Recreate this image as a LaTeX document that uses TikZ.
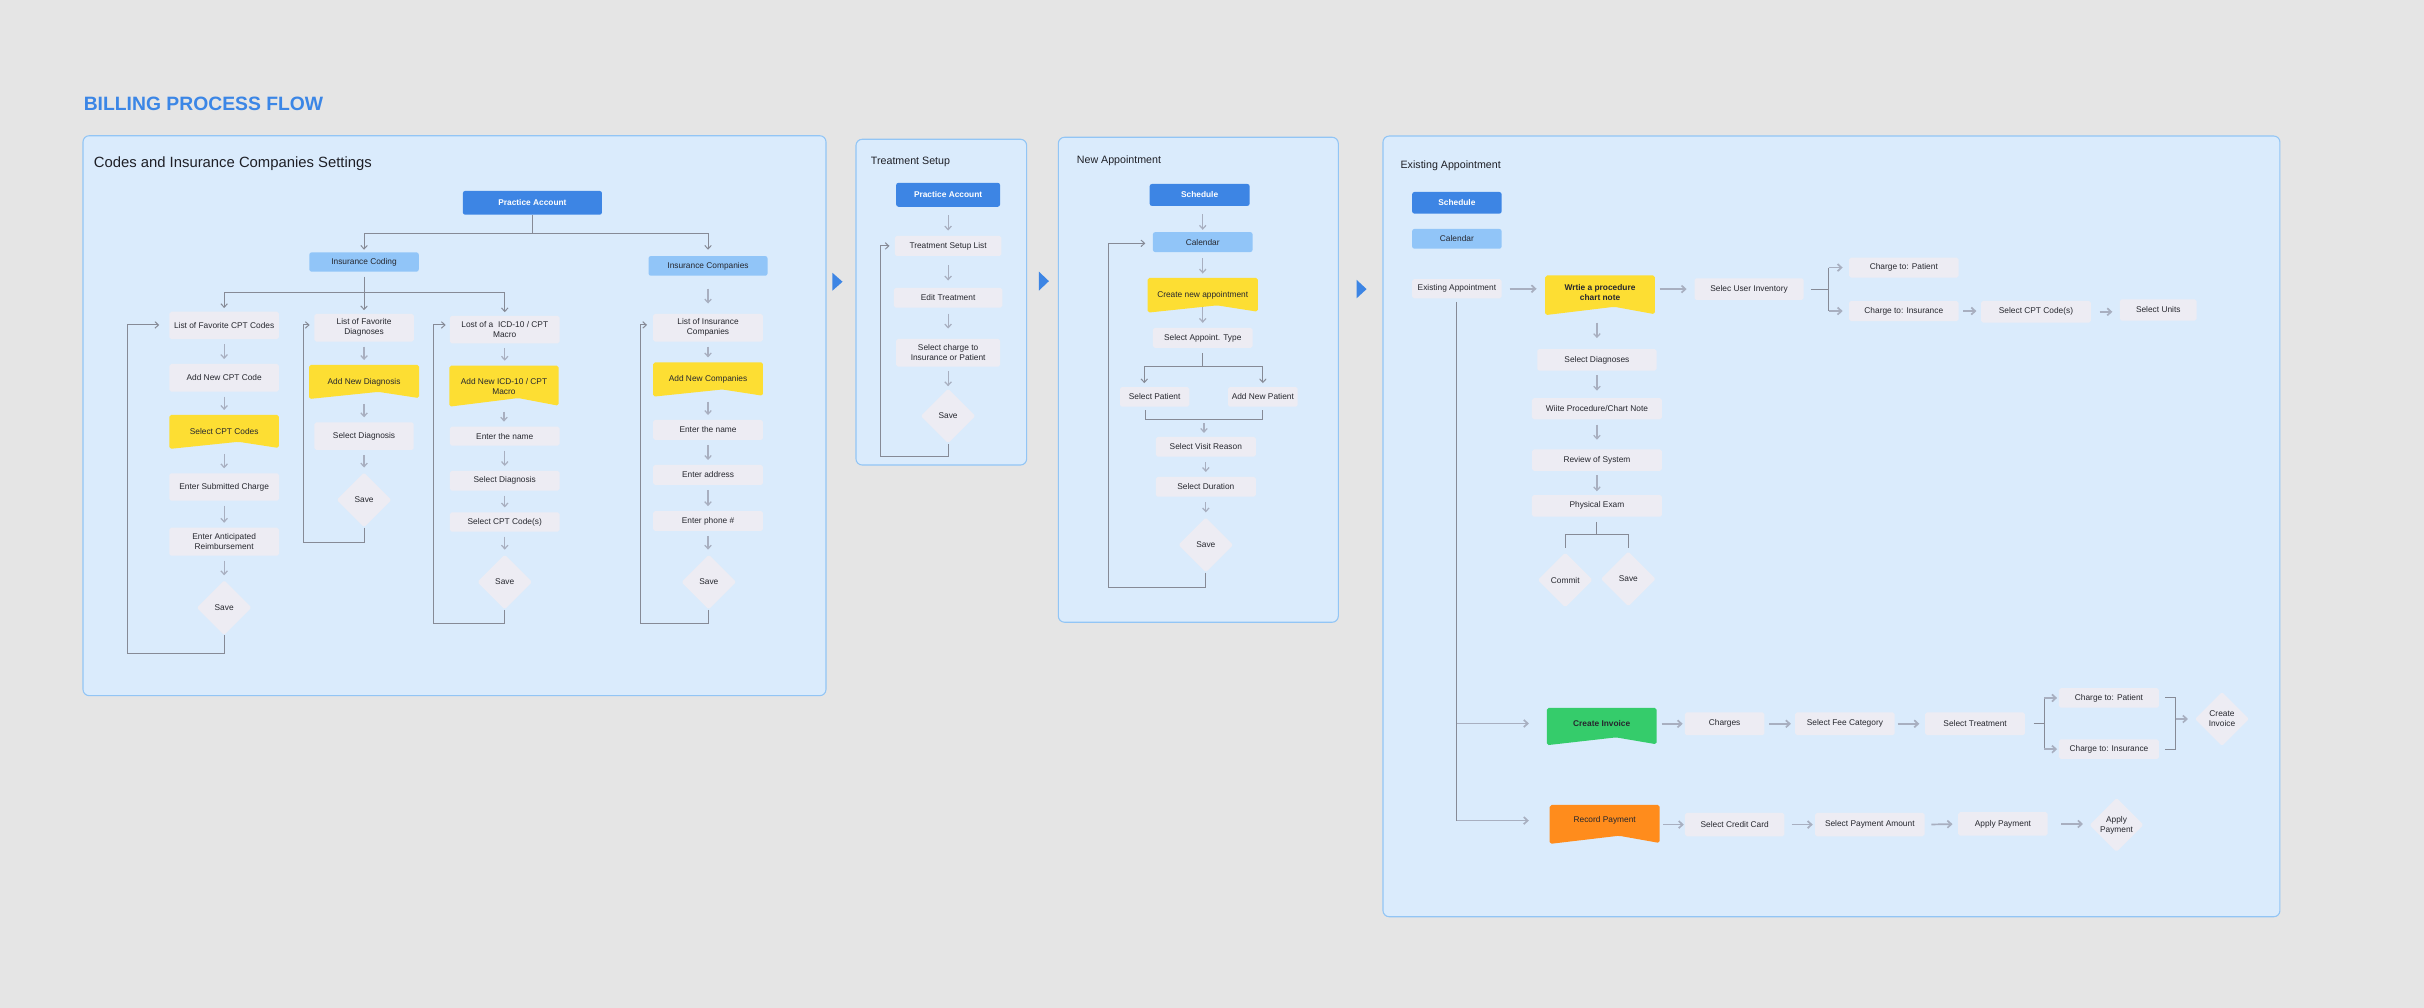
\documentclass[tikz,border=0pt]{standalone}
\usepackage{fontspec}
\setmainfont{Liberation Sans}
\usetikzlibrary{shapes.geometric,arrows.meta,calc}
\definecolor{bgc}{HTML}{E5E5E5}
\definecolor{panelc}{HTML}{DAEBFC}
\definecolor{panelb}{HTML}{92C5F5}
\definecolor{dblue}{HTML}{3D85E4}
\definecolor{lblue}{HTML}{91C5F8}
\definecolor{boxg}{HTML}{EDECF3}
\definecolor{yel}{HTML}{FDDE33}
\definecolor{grn}{HTML}{35CC6B}
\definecolor{org}{HTML}{FF8C1C}
\definecolor{txt}{HTML}{26272E}
\definecolor{ttxt}{HTML}{1E1F26}
\definecolor{lineg}{HTML}{868A96}
\definecolor{arrg}{HTML}{A8AFC0}
\definecolor{titleb}{HTML}{3B86E6}
\newcommand\bannernode[8]{%
 \fill[#6, rounded corners=1.2pt] ({#2-#4/2},{#3-#5/2}) -- ({#2+#4/2},{#3-#5/2}) -- ({#2+#4/2},{#3+#5/2-0.6}) -- ({#2+0.13*#4},{#3+#5/2-0.21*#5}) -- ({#2-#4/2},{#3+#5/2}) -- cycle;
 \node[lbl, minimum width=#4pt, minimum height=#5pt, inner sep=0pt, #7] (#1) at (#2,#3) {#8};}
\tikzset{
 lbl/.style={font=\fontsize{5.4}{6.5}\selectfont, text=txt, align=center},
 gbox/.style={lbl, fill=boxg, rounded corners=1.2pt, inner sep=0pt},
 dbox/.style={fill=dblue, rounded corners=1.5pt, text=white, font=\bfseries\fontsize{5.4}{6.5}\selectfont, align=center, inner sep=0pt},
 lbox/.style={lbl, fill=lblue, rounded corners=1.5pt, inner sep=0pt},
 dia/.style={lbl, diamond, fill=boxg, minimum width=35.5pt, minimum height=35.5pt, inner sep=0pt, rounded corners=1pt},
 panel/.style={fill=panelc, draw=panelb, line width=0.7pt, rounded corners=4pt},
 ptitle/.style={anchor=base west, inner sep=0pt, text=ttxt},
 va/.style={draw=arrg, line width=0.8pt, -{Straight Barb[length=2.3pt,width=4.2pt]}},
 ha/.style={draw=arrg, line width=1.1pt, -{Straight Barb[length=2.5pt,width=4.6pt]}},
 dk/.style={draw=lineg, line width=0.65pt},
 dka/.style={dk, -{Straight Barb[length=2.3pt,width=4.2pt]}},
 tri/.style={fill=dblue},
}
\begin{document}
\begin{tikzpicture}[x=1pt,y=-1pt]
\fill[bgc] (0,0) rectangle (1568,652);
\useasboundingbox (0,0) rectangle (1568,652);

\node[anchor=base west, inner sep=0pt, font=\bfseries\fontsize{12.5}{15}\selectfont, text=titleb] (title) at (54,71.2) {BILLING PROCESS FLOW};

% panels
\draw[panel] (53.7,87.8) rectangle (534.3,450);
\draw[panel] (553.7,90.1) rectangle (664.1,300.8);
\draw[panel] (684.6,88.8) rectangle (865.7,402.5);
\draw[panel] (894.6,88) rectangle (1474.8,593);
\fill[tri] (538.5,176.5) -- (545,182.25) -- (538.5,188) -- cycle;
\fill[tri] (672,175.7) -- (678.5,181.85) -- (672,188) -- cycle;
\fill[tri] (877.5,181) -- (884,187) -- (877.5,193) -- cycle;

\node[ptitle, font=\fontsize{9.6}{11}\selectfont] (p1t) at (60.5,108.2) {Codes and Insurance Companies Settings};
\node[ptitle, font=\fontsize{6.9}{8}\selectfont] (p2t) at (563.2,106.1) {Treatment Setup};
\node[ptitle, font=\fontsize{6.9}{8}\selectfont] (p3t) at (696.4,105.6) {New Appointment};
\node[ptitle, font=\fontsize{6.9}{8}\selectfont] (p4t) at (905.8,109.3) {Existing Appointment};

% ===== Panel 1 =====
\node[dbox, minimum width=90pt, minimum height=15.4pt] (pa1) at (344.4,131.2) {Practice Account};
\node[lbox, minimum width=70.8pt, minimum height=12.5pt] (icod) at (235.5,169.5) {Insurance Coding};
\node[lbox, minimum width=77pt, minimum height=12.7pt] (icomp) at (458,172) {Insurance Companies};

\node[gbox, minimum width=70.8pt, minimum height=17.7pt] (lfc) at (145,210.5) {List of Favorite CPT Codes};
\node[gbox, minimum width=70.8pt, minimum height=17.9pt] (ancc) at (145,244.4) {Add New CPT Code};
\bannernode{scc}{145}{279.4}{70.8}{22}{yel}{}{Select CPT Codes}
\node[gbox, minimum width=71pt, minimum height=17.7pt] (esc) at (145,315) {Enter Submitted Charge};
\node[gbox, minimum width=71pt, minimum height=18.1pt] (ear) at (145,350.4) {Enter Anticipated\\Reimbursement};
\node[dia] (sv1) at (145,393.1) {Save};

\node[gbox, minimum width=64.4pt, minimum height=17.9pt] (lfd) at (235.5,212) {List of Favorite\\Diagnoses};
\bannernode{andg}{235.5}{247.1}{71.2}{22}{yel}{}{Add New Diagnosis}
\node[gbox, minimum width=64.2pt, minimum height=17.9pt] (sd1) at (235.5,282.1) {Select Diagnosis};
\node[dia] (sv2) at (235.5,323.4) {Save};

\node[gbox, minimum width=71pt, minimum height=17.7pt] (licd) at (326.5,213.2) {Lost of a~ ICD-10 / CPT\\Macro};
\bannernode{anicd}{326}{249.8}{70.7}{26.5}{yel}{}{Add New ICD-10 / CPT\\Macro}
\node[gbox, minimum width=71pt, minimum height=12.3pt] (etn1) at (326.5,282.1) {Enter the name};
\node[gbox, minimum width=71pt, minimum height=12.7pt] (sd2) at (326.5,311) {Select Diagnosis};
\node[gbox, minimum width=71pt, minimum height=12.5pt] (scpt1) at (326.5,337.7) {Select CPT Code(s)};
\node[dia] (sv3) at (326.5,376.5) {Save};

\node[gbox, minimum width=71.1pt, minimum height=17.9pt] (lic) at (458,212) {List of Insurance\\Companies};
\bannernode{anc}{458}{245.5}{71.1}{22.2}{yel}{}{Add New Companies}
\node[gbox, minimum width=71.1pt, minimum height=12.9pt] (etn2) at (458,278.1) {Enter the name};
\node[gbox, minimum width=71.1pt, minimum height=12.9pt] (ead) at (458,307.2) {Enter address};
\node[gbox, minimum width=71.1pt, minimum height=12.8pt] (eph) at (458,337) {Enter phone \#};
\node[dia] (sv4) at (458.5,376.5) {Save};

% tree
\coordinate (t0) at (0,150.9);
\draw[dk] (pa1.south) -- (pa1.south |- t0);
\draw[dk] (icod.north |- t0) -- (icomp.north |- t0);
\draw[dka, shorten >=1.5pt] (icod.north |- t0) -- (icod.north);
\draw[dka, shorten >=3.9pt] (icomp.north |- t0) -- (icomp.north);
\coordinate (t1) at (0,189.1);
\draw[dk, shorten <=3pt] (icod.south) -- (icod.south |- t1);
\draw[dk] (lfc.north |- t1) -- (licd.north |- t1);
\draw[dka, shorten >=2.2pt] (lfc.north |- t1) -- (lfc.north);
\draw[dka, shorten >=2.2pt] (lfd.north |- t1) -- (lfd.north);
\draw[dka, shorten >=2.2pt] (licd.north |- t1) -- (licd.north);
\draw[va, shorten <=8.2pt, shorten >=6.5pt] (icomp.south) -- (icomp.south |- lic.north);

\foreach \na/\nb in {lfc/ancc, ancc/scc, scc/esc, esc/ear, ear/sv1, lfd/andg, andg/sd1, sd1/sv2, licd/anicd, anicd/etn1, etn1/sd2, sd2/scpt1, scpt1/sv3, lic/anc, anc/etn2, etn2/ead, ead/eph, eph/sv4}
  \draw[va, shorten <=3pt, shorten >=3pt] (\na.south) -- (\na.south |- \nb.north);

% loops
\coordinate (la) at (82.4,422.6); \coordinate (lat) at (82.4,210.2);
\draw[dka, shorten >=6.4pt] (sv1.south) -- (sv1.south |- la) -- (la) -- (lat) -- (lat -| lfc.west);
\coordinate (lb) at (196.2,350.8); \coordinate (lbt) at (196.2,210.2);
\draw[dka, shorten >=2.8pt] (sv2.south) -- (sv2.south |- lb) -- (lb) -- (lbt) -- (lbt -| lfd.west);
\coordinate (lc) at (280.7,403.6); \coordinate (lct) at (280.7,210.2);
\draw[dka, shorten >=2.5pt] (sv3.south) -- (sv3.south |- lc) -- (lc) -- (lct) -- (lct -| licd.west);
\coordinate (ld) at (414.4,403.6); \coordinate (ldt) at (414.4,210.2);
\draw[dka, shorten >=3.7pt] (sv4.south) -- (sv4.south |- ld) -- (ld) -- (ldt) -- (ldt -| lic.west);

% ===== Panel 2 =====
\node[dbox, minimum width=67.2pt, minimum height=15.5pt] (pa2) at (613.3,126) {Practice Account};
\node[gbox, minimum width=69pt, minimum height=12.9pt] (tsl) at (613.3,159.1) {Treatment Setup List};
\node[gbox, minimum width=70.3pt, minimum height=12.7pt] (et) at (613.3,192.6) {Edit Treatment};
\node[gbox, minimum width=67.3pt, minimum height=17.9pt] (sci) at (613.3,228.2) {Select charge to\\Insurance or Patient};
\node[dia] (sv5) at (613.3,269.1) {Save};
\foreach \na/\nb/\ss/\se in {pa2/tsl/5.4/3.3, tsl/et/5.8/4.6, et/sci/3.7/6.5, sci/sv5/2.7/1.3}
  \draw[va, shorten <=\ss pt, shorten >=\se pt] (\na.south) -- (\na.south |- \nb.north);
\coordinate (le) at (569.6,295); \coordinate (let) at (569.6,159.1);
\draw[dka, shorten >=3.2pt] (sv5.south) -- (sv5.south |- le) -- (le) -- (let) -- (let -| tsl.west);

% ===== Panel 3 =====
\node[dbox, minimum width=64.7pt, minimum height=14.2pt] (sch3) at (776,126.1) {Schedule};
\node[lbox, minimum width=64.5pt, minimum height=12.9pt] (cal3) at (778,156.6) {Calendar};
\bannernode{cna}{778}{191}{71.2}{22.5}{yel}{}{Create new appointment}
\node[gbox, minimum width=64.5pt, minimum height=12.9pt] (sat) at (778,218.6) {Select Appoint. Type};
\node[gbox, minimum width=44.8pt, minimum height=12.7pt] (sp) at (746.9,256.7) {Select Patient};
\node[gbox, minimum width=45.1pt, minimum height=12.7pt] (anp) at (816.9,256.7) {Add New Patient};
\node[gbox, minimum width=64.7pt, minimum height=12.7pt] (svr) at (780,289) {Select Visit Reason};
\node[gbox, minimum width=64.7pt, minimum height=12.8pt] (sdur) at (780,314.9) {Select Duration};
\node[dia] (sv6) at (780,352.5) {Save};

\draw[va, shorten <=5.2pt, shorten >=1.3pt] (sch3.south -| cal3.north) -- (cal3.north);
\draw[va, shorten <=3.7pt, shorten >=2.6pt] (cal3.south) -- (cal3.south |- cna.north);
\draw[va, shorten <=-3.9pt, shorten >=3.1pt] (cna.south) -- (cna.south |- sat.north);
\coordinate (s1) at (740.2,237.2);
\draw[dk, shorten <=3.4pt] (sat.south) -- (sat.south |- s1);
\draw[dk] (s1) -- (s1 -| anp.north);
\draw[dka, shorten >=2.3pt] (s1) -- (s1 |- sp.north);
\draw[dka, shorten >=2.3pt] (s1 -| anp.north) -- (anp.north);
\coordinate (m1) at (740.8,271.2);
\draw[dk, shorten <=2.2pt, shorten >=2.2pt] (m1 |- sp.south) -- (m1) -- (m1 -| anp.south) -- (anp.south);
\coordinate (m2) at (778.8,273.8);
\draw[va, shorten >=2.4pt] (m2) -- (m2 |- svr.north);
\draw[va, shorten <=3.2pt, shorten >=3pt] (svr.south) -- (svr.south |- sdur.north);
\draw[va, shorten <=3.2pt, shorten >=3.1pt] (sdur.south) -- (sdur.south |- sv6.north);
\coordinate (lf) at (716.9,379.9); \coordinate (lft) at (716.9,157.4);
\draw[dka, shorten >=4.7pt] (sv6.south) -- (sv6.south |- lf) -- (lf) -- (lft) -- (lft -| cal3.west);

% ===== Panel 4 =====
\node[dbox, minimum width=57.9pt, minimum height=14pt] (sch4) at (942.4,131.2) {Schedule};
\node[lbox, minimum width=57.9pt, minimum height=12.8pt] (cal4) at (942.4,154.5) {Calendar};
\node[gbox, minimum width=57.9pt, minimum height=12.5pt] (ea) at (942.4,186.8) {Existing Appointment};
\bannernode{wpc}{1035}{191}{70.9}{25.7}{yel}{yshift=1.5pt, font=\bfseries\fontsize{5.4}{6.5}\selectfont}{Wrtie a procedure\\chart note}
\node[gbox, minimum width=70.6pt, minimum height=14pt] (sui) at (1131.4,187) {Selec User Inventory};
\node[gbox, minimum width=70.9pt, minimum height=12.9pt] (ctp1) at (1231.5,173.1) {Charge to: Patient};
\node[gbox, minimum width=70.9pt, minimum height=12.9pt] (cti1) at (1231.5,201.2) {Charge to: Insurance};
\node[gbox, minimum width=71.1pt, minimum height=14pt] (scpt2) at (1317,201.7) {Select CPT Code(s)};
\node[gbox, minimum width=49.6pt, minimum height=13.8pt] (su) at (1396.1,200.5) {Select Units};
\node[gbox, minimum width=77.2pt, minimum height=14pt] (sdg) at (1033,232.8) {Select Diagnoses};
\node[gbox, minimum width=84.1pt, minimum height=13.6pt] (wpn) at (1033,264.4) {Wiite Procedure/Chart Note};
\node[gbox, minimum width=83.9pt, minimum height=13.9pt] (ros) at (1033,297.6) {Review of System};
\node[gbox, minimum width=84.1pt, minimum height=14pt] (pe) at (1033,327.2) {Physical Exam};
\node[dia] (cmt) at (1012.5,375.2) {Commit};
\node[dia] (sv7) at (1053.3,374.5) {Save};

\bannernode{cinv}{1036.1}{470}{71}{24.1}{grn}{yshift=2pt, font=\bfseries\fontsize{5.4}{6.5}\selectfont}{Create Invoice}
\node[gbox, minimum width=51.5pt, minimum height=14.8pt] (chg) at (1115.6,468.2) {Charges};
\node[gbox, minimum width=64.4pt, minimum height=14.8pt] (sfc) at (1193.4,468.2) {Select Fee Category};
\node[gbox, minimum width=64.5pt, minimum height=14.8pt] (str) at (1277.6,468.2) {Select Treatment};
\node[gbox, minimum width=64.7pt, minimum height=12.6pt] (ctp2) at (1364.2,451.5) {Charge to: Patient};
\node[gbox, minimum width=64.7pt, minimum height=12.6pt] (cti2) at (1364.2,484.6) {Charge to: Insurance};
\node[dia, minimum width=35pt, minimum height=35pt] (cid) at (1437.3,465.1) {Create\\Invoice};

\bannernode{rp}{1038}{533.3}{71.1}{25.2}{org}{yshift=2.5pt}{Record Payment}
\node[gbox, minimum width=64.4pt, minimum height=15.1pt] (scc2) at (1122.1,533.4) {Select Credit Card};
\node[gbox, minimum width=70.8pt, minimum height=15.1pt] (spa) at (1209.5,533.4) {Select Payment Amount};
\node[gbox, minimum width=57.8pt, minimum height=15.2pt] (ap) at (1295.6,533) {Apply Payment};
\node[dia, minimum width=35pt, minimum height=35pt] (apd) at (1369.1,533.6) {Apply\\Payment};

% P4 connectors
\draw[ha, shorten <=5pt, shorten >=5.4pt] (ea.east) -- (ea.east -| wpc.west);
\draw[ha, shorten <=2.9pt, shorten >=4.9pt] (wpc.east |- sui.west) -- (sui.west);
\coordinate (b1) at (1183,187.8);
\draw[dk, shorten <=4.4pt] (sui.east) -- (sui.east -| b1);
\draw[dk] (b1 |- ctp1.west) -- (b1 |- cti1.west);
\draw[ha, shorten >=3.9pt] (b1 |- ctp1.west) -- (ctp1.west);
\draw[ha, shorten >=3.9pt] (b1 |- cti1.west) -- (cti1.west);
\draw[ha, shorten <=2.9pt, shorten >=2.8pt] (cti1.east) -- (cti1.east -| scpt2.west);
\draw[ha, shorten <=5.4pt, shorten >=4.7pt] (scpt2.east) -- (scpt2.east -| su.west);

\draw[va, shorten <=6.2pt, shorten >=6.9pt] (sdg.north |- wpc.south) -- (sdg.north);
\draw[va, shorten <=2.8pt, shorten >=4.7pt] (sdg.south) -- (sdg.south |- wpn.north);
\draw[va, shorten <=3.2pt, shorten >=6pt] (wpn.south) -- (wpn.south |- ros.north);
\draw[va, shorten <=2.7pt, shorten >=2.2pt] (ros.south) -- (ros.south |- pe.north);
\coordinate (c1) at (0,345.6);
\draw[dk, shorten <=3.2pt] (pe.south) -- (pe.south |- c1);
\draw[dk] (cmt.north |- c1) -- (sv7.north |- c1);
\draw[dk, shorten >=2.8pt] (cmt.north |- c1) -- (cmt.north);
\draw[dk, shorten >=2.1pt] (sv7.north |- c1) -- (sv7.north);

\draw[dk, shorten <=2pt] (ea.south) -- (ea.south |- rp.west);
\draw[ha, shorten >=11.4pt] (ea.south |- cinv.west) -- (cinv.west);
\draw[ha, shorten >=13.3pt] (ea.south |- rp.west) -- (rp.west);

\draw[ha, shorten <=3pt, shorten >=1.2pt] (cinv.east |- chg.west) -- (chg.west);
\draw[ha, shorten <=3pt, shorten >=2.5pt] (chg.east) -- (sfc.west);
\draw[ha, shorten <=1.7pt, shorten >=3.6pt] (sfc.east) -- (str.west);
\coordinate (b2) at (1322.3,0);
\draw[dk, shorten <=5.4pt] (str.east) -- (str.east -| b2);
\draw[dk] (b2 |- ctp2.west) -- (b2 |- cti2.west);
\draw[ha, shorten >=1pt] (b2 |- ctp2.west) -- (ctp2.west);
\draw[ha, shorten >=1pt] (b2 |- cti2.west) -- (cti2.west);
\coordinate (b3) at (1407.3,0);
\draw[dk, shorten <=3.9pt, shorten >=3.9pt] (ctp2.east) -- (ctp2.east -| b3) -- (cti2.east -| b3) -- (cti2.east);
\draw[ha, shorten >=4.3pt] (b3 |- cid.west) -- (cid.west);

\draw[ha, shorten <=2.2pt, shorten >=0.5pt] (rp.east |- scc2.west) -- (scc2.west);
\draw[ha, shorten <=4.4pt, shorten >=1.3pt] (scc2.east) -- (spa.west);
\draw[ha, shorten <=4.2pt, shorten >=3.5pt] (spa.east) -- (ap.west);
\draw[ha, shorten <=8.6pt, shorten >=4pt] (ap.east) -- (ap.east -| apd.west);
\end{tikzpicture}
\end{document}
